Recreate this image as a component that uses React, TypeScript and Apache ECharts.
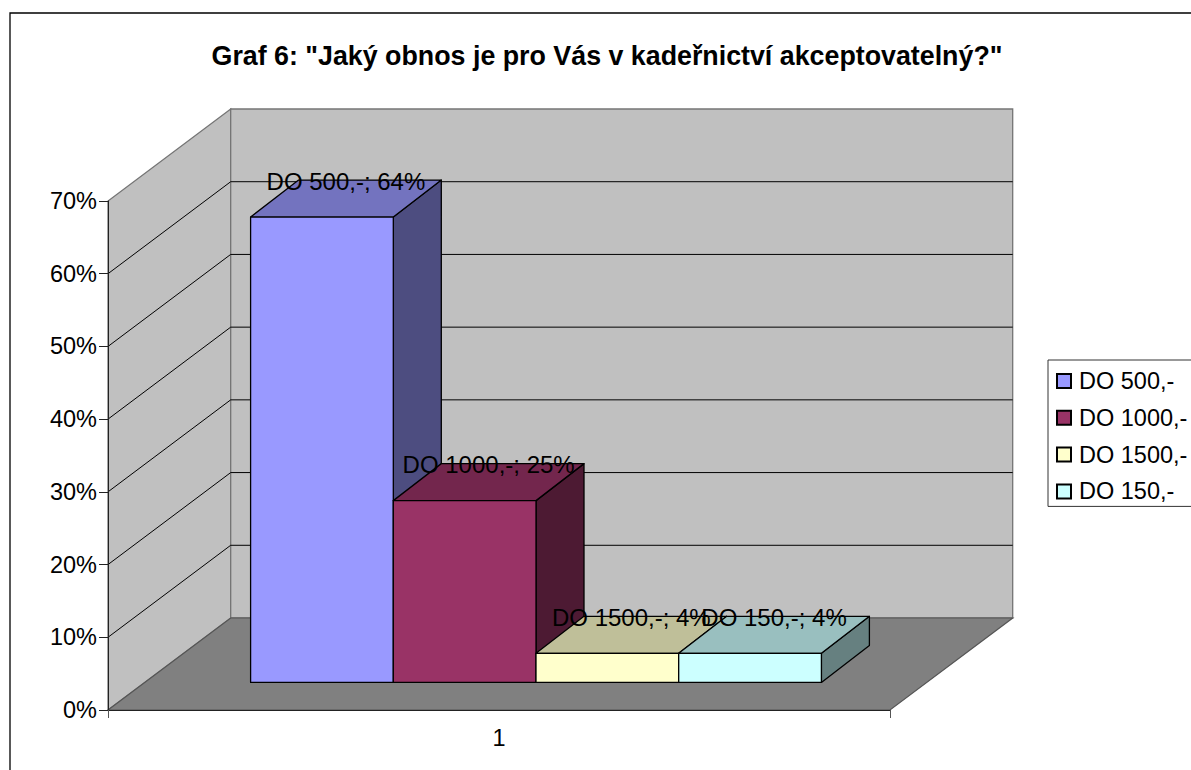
import React, { useEffect, useRef } from "react";
import * as echarts from "echarts";

const chartTitle = 'Graf 6: "Jaký obnos je pro Vás v kadeřnictví akceptovatelný?"';
const categories = ["1"];
const seriesNames = ["DO 500,-", "DO 1000,-", "DO 1500,-", "DO 150,-"];
const seriesValues = [64, 25, 4, 4];
const seriesColors = ["#9999FF", "#993366", "#FFFFCC", "#CCFFFF"];
const topColors = ["#7373BF", "#73264D", "#BFBF99", "#99BFBF"];
const sideColors = ["#4D4D80", "#4D1A33", "#808066", "#668080"];
const axisTicks = [0, 10, 20, 30, 40, 50, 60, 70];

// Oblique projection of the depth axis, in pixels.
const WALL_DX = 122.7;
const WALL_DY = -92;
const BAR_BASE_DX = 37;
const BAR_BASE_DY = -27.6;
const BAR_DX = 48;
const BAR_DY = -37;
const GAP_RATIO = 0.74;
const FONT = '"Liberation Sans", Arial, sans-serif';
const FONT_SIZE = 23.5;
const LABEL_FONT_SIZE = 24;

// Left wall, back wall, floor and the gridlines that run across the walls.
function renderWalls(_params: any, api: any) {
  const [x0, y0] = api.coord([0, 0]);
  const band = api.size([1, 0])[0];
  const left = x0 - band / 2;
  const right = x0 + band / 2;
  const [, yTop] = api.coord([0, axisTicks[axisTicks.length - 1]]);
  const wallStyle = { fill: "#C0C0C0", stroke: "#757575", lineWidth: 1.3 };
  const children: any[] = [
    {
      type: "polygon",
      shape: { points: [[left, y0], [left, yTop], [left + WALL_DX, yTop + WALL_DY], [left + WALL_DX, y0 + WALL_DY]] },
      style: wallStyle,
    },
    {
      type: "polygon",
      shape: {
        points: [
          [left + WALL_DX, yTop + WALL_DY],
          [right + WALL_DX, yTop + WALL_DY],
          [right + WALL_DX, y0 + WALL_DY],
          [left + WALL_DX, y0 + WALL_DY],
        ],
      },
      style: wallStyle,
    },
    {
      type: "polygon",
      shape: { points: [[left, y0], [left + WALL_DX, y0 + WALL_DY], [right + WALL_DX, y0 + WALL_DY], [right, y0]] },
      style: { fill: "#808080", stroke: "#555555", lineWidth: 1.2 },
    },
  ];
  axisTicks.slice(1, -1).forEach((tick) => {
    const y = api.coord([0, tick])[1];
    children.push({
      type: "polyline",
      shape: { points: [[left, y], [left + WALL_DX, y + WALL_DY], [right + WALL_DX, y + WALL_DY]] },
      style: { fill: "none", stroke: "#000000", lineWidth: 1 },
    });
  });
  return { type: "group", children };
}

// One oblique box per series, set side by side within the single category.
function makeBarRenderer(index: number) {
  return (_params: any, api: any) => {
    const [cx, y0] = api.coord([0, 0]);
    const value = api.value(1);
    const band = api.size([1, 0])[0];
    const barW = band / (seriesNames.length + 2 * GAP_RATIO);
    const x1 = cx + BAR_BASE_DX + (index - seriesNames.length / 2) * barW;
    const x2 = x1 + barW;
    const yBase = y0 + BAR_BASE_DY;
    const yTop = yBase - (y0 - api.coord([0, value])[1]);
    const edge = { stroke: "#000000", lineWidth: 1.3, lineJoin: "round" };
    return {
      type: "group",
      children: [
        {
          type: "polygon",
          shape: { points: [[x2, yBase], [x2, yTop], [x2 + BAR_DX, yTop + BAR_DY], [x2 + BAR_DX, yBase + BAR_DY]] },
          style: { fill: sideColors[index], ...edge },
        },
        {
          type: "polygon",
          shape: { points: [[x1, yTop], [x2, yTop], [x2 + BAR_DX, yTop + BAR_DY], [x1 + BAR_DX, yTop + BAR_DY]] },
          style: { fill: topColors[index], ...edge },
        },
        {
          type: "polygon",
          shape: { points: [[x1, yBase], [x2, yBase], [x2, yTop], [x1, yTop]] },
          style: { fill: seriesColors[index], ...edge },
        },
        {
          type: "text",
          z2: 100,
          style: {
            text: `${seriesNames[index]}; ${value}%`,
            x: (x1 + x2) / 2 + BAR_DX / 2,
            y: yTop + BAR_DY + 1,
            align: "center",
            verticalAlign: "middle",
            fill: "#000000",
            fontSize: LABEL_FONT_SIZE,
            fontFamily: FONT,
          },
        },
      ],
    };
  };
}

export default function App() {
  const ref = useRef<HTMLDivElement>(null);

  useEffect(() => {
    const chart = echarts.init(ref.current!, null, { renderer: "svg" });
    const axisLine = { show: true, lineStyle: { color: "#222222", width: 1 } };
    chart.setOption({
      animation: false,
      backgroundColor: "#FFFFFF",
      textStyle: { fontFamily: FONT },
      title: {
        text: chartTitle,
        left: 602,
        top: 37,
        textAlign: "center",
        textStyle: { fontSize: 26.8, fontWeight: "bold", color: "#000000", fontFamily: FONT },
      },
      grid: { left: 108, top: 201, width: 782, height: 509 },
      xAxis: {
        type: "category",
        data: categories,
        z: 10,
        axisLine,
        axisTick: { show: true, length: 8, alignWithLabel: false, lineStyle: { color: "#555555" } },
        axisLabel: { fontSize: FONT_SIZE, color: "#000000", margin: 16, fontFamily: FONT },
      },
      yAxis: {
        type: "value",
        min: 0,
        max: 70,
        interval: 10,
        z: 10,
        axisLine,
        axisTick: { show: true, length: 9, lineStyle: { color: "#222222" } },
        axisLabel: {
          fontSize: FONT_SIZE,
          color: "#000000",
          margin: 11,
          formatter: "{value}%",
          fontFamily: FONT,
          padding: [2, 0, 0, 0],
        },
        splitLine: { show: false },
      },
      legend: {
        data: seriesNames,
        orient: "vertical",
        left: 1048,
        top: 360,
        icon: "rect",
        itemWidth: 14,
        itemHeight: 14,
        itemGap: 12.8,
        padding: [9, 12, 3, 8],
        selectedMode: false,
        backgroundColor: "#FFFFFF",
        borderColor: "#333333",
        borderWidth: 1,
        borderRadius: 0,
        textStyle: { fontSize: FONT_SIZE, color: "#000000", fontFamily: FONT, padding: [0, 0, 0, 3] },
      },
      graphic: [
        {
          type: "polyline",
          silent: true,
          shape: { points: [[10, 770], [10, 13], [1191, 13]] },
          style: { fill: "none", stroke: "#000000", lineWidth: 1.3 },
        },
      ],
      series: [
        {
          type: "custom",
          name: "walls",
          coordinateSystem: "cartesian2d",
          z: 1,
          silent: true,
          clip: false,
          data: [[0, 0]],
          renderItem: renderWalls,
        },
        ...seriesNames.map((name, i) => ({
          type: "custom",
          name,
          coordinateSystem: "cartesian2d",
          z: 2,
          silent: true,
          clip: false,
          itemStyle: { color: seriesColors[i], borderColor: "#000000", borderWidth: 1 },
          data: [[0, seriesValues[i]]],
          renderItem: makeBarRenderer(i),
        })),
      ],
    });
    return () => chart.dispose();
  }, []);

  return <div ref={ref} style={{ position: "fixed", left: 0, top: 0, width: 1191, height: 770 }} />;
}
